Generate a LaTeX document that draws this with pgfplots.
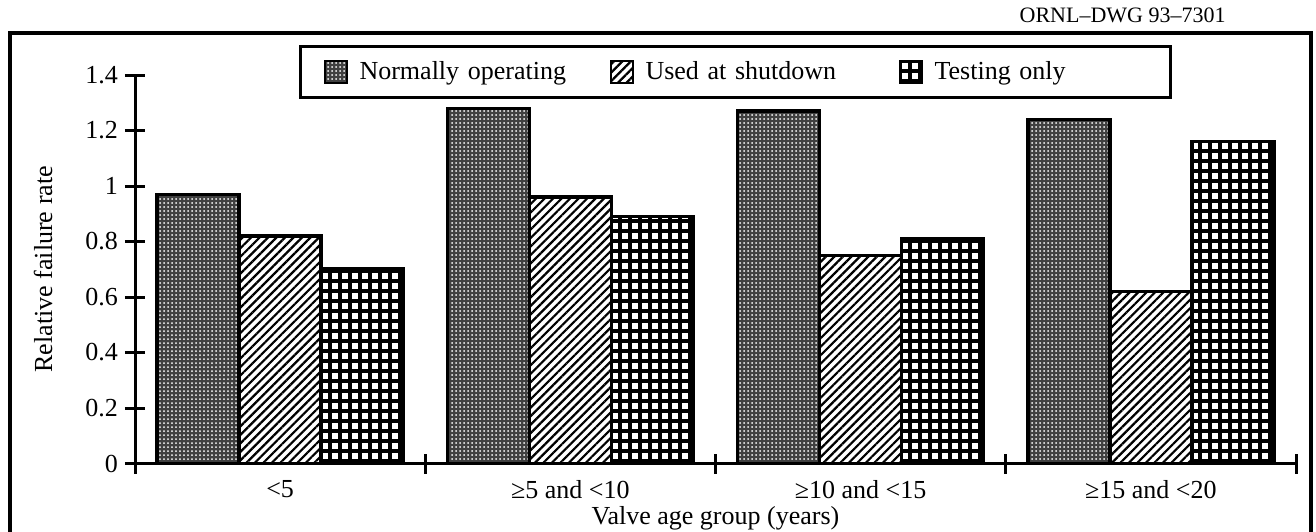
\documentclass[border=0pt]{standalone}
\usepackage{fontspec}
\setmainfont{Liberation Serif}
\usepackage{pgfplots}
\pgfplotsset{compat=1.18}
\usetikzlibrary{patterns.meta}

\pgfplotsset{
  swatch/.style={legend image code/.code={\draw[##1, line width=1pt] (0pt,-5.5pt) rectangle (11pt,5.5pt);}},
  barN/.style={fill=black!75, draw=black, line width=1.8pt,
     postaction={pattern={Dots[distance=2pt,radius=0.5pt]}, pattern color=white}, swatch},
  barU/.style={fill=white, draw=black, line width=1.8pt,
     postaction={pattern={Lines[angle=45,distance=3pt,line width=1.1pt]}, pattern color=black}, swatch},
  barT/.style={fill=white, draw=black, line width=1.8pt,
     postaction={pattern={Hatch[angle=0,distance=5pt,line width=1.6pt]}, pattern color=black}, swatch},
}

\begin{document}
\begin{tikzpicture}
\path[use as bounding box] (0,0) rectangle (658pt,265.5pt);
\clip (0,0) rectangle (658pt,265.5pt);
\draw[line width=1.6pt] (5pt,-10pt) rectangle (655.5pt,249pt);
\node[anchor=east, font=\fontsize{11}{13}\selectfont, inner sep=0pt] at (613pt,258pt) {ORNL–DWG 93–7301};
\begin{axis}[
  at={(67.5pt,33.75pt)}, anchor=south west,
  scale only axis, width=580.5pt, height=194.25pt,
  xmin=-0.5, xmax=3.5, ymin=0, ymax=1.4,
  axis x line=bottom, axis y line=left,
  axis line style={-, line width=1.5pt},
  ybar=0pt, bar width=41pt,
  xtick={0,1,2,3},
  xticklabels={<5, ≥5 and <10, ≥10 and <15, ≥15 and <20},
  minor xtick={-0.5,0.5,1.5,2.5,3.5},
  ytick={0,0.2,0.4,0.6,0.8,1,1.2,1.4},
  major tick length=10pt, minor tick length=10pt, tick align=center,
  tick style={line width=1.5pt, black},
  major x tick style={draw=none},
  /pgf/number format/assume math mode=true,
  tick label style={font=\fontsize{13}{15}\selectfont},
  label style={font=\fontsize{13}{15}\selectfont},
  xlabel={Valve age group (years)},
  ylabel={Relative failure rate},
  xlabel style={at={(axis description cs:0.5,-0.140)}, anchor=center},
  ylabel style={at={(axis description cs:-0.0792,0.5)}, anchor=center},
  clip=false,
  legend style={at={(axis description cs:0.1413,1.077)}, anchor=north west,
    draw=black, line width=1.5pt, legend columns=3,
    inner xsep=11.5pt, inner ysep=6.5pt,
    font=\fontsize{13}{15}\selectfont,
    nodes={inner xsep=0pt, inner ysep=1pt},
    /tikz/every odd column/.style={column sep=6pt}},
  legend cell align=left,
]
\addplot[barN] coordinates {(0,0.97) (1,1.28) (2,1.27) (3,1.24)};
\addlegendentry[text width=125pt, align=left]{Normally operating}
\addplot[barU] coordinates {(0,0.82) (1,0.96) (2,0.75) (3,0.62)};
\addlegendentry[text width=126.5pt, align=left]{Used at shutdown}
\addplot[barT] coordinates {(0,0.70) (1,0.89) (2,0.81) (3,1.16)};
\addlegendentry[text width=106.5pt, align=left]{Testing only}
\end{axis}
\end{tikzpicture}
\end{document}
